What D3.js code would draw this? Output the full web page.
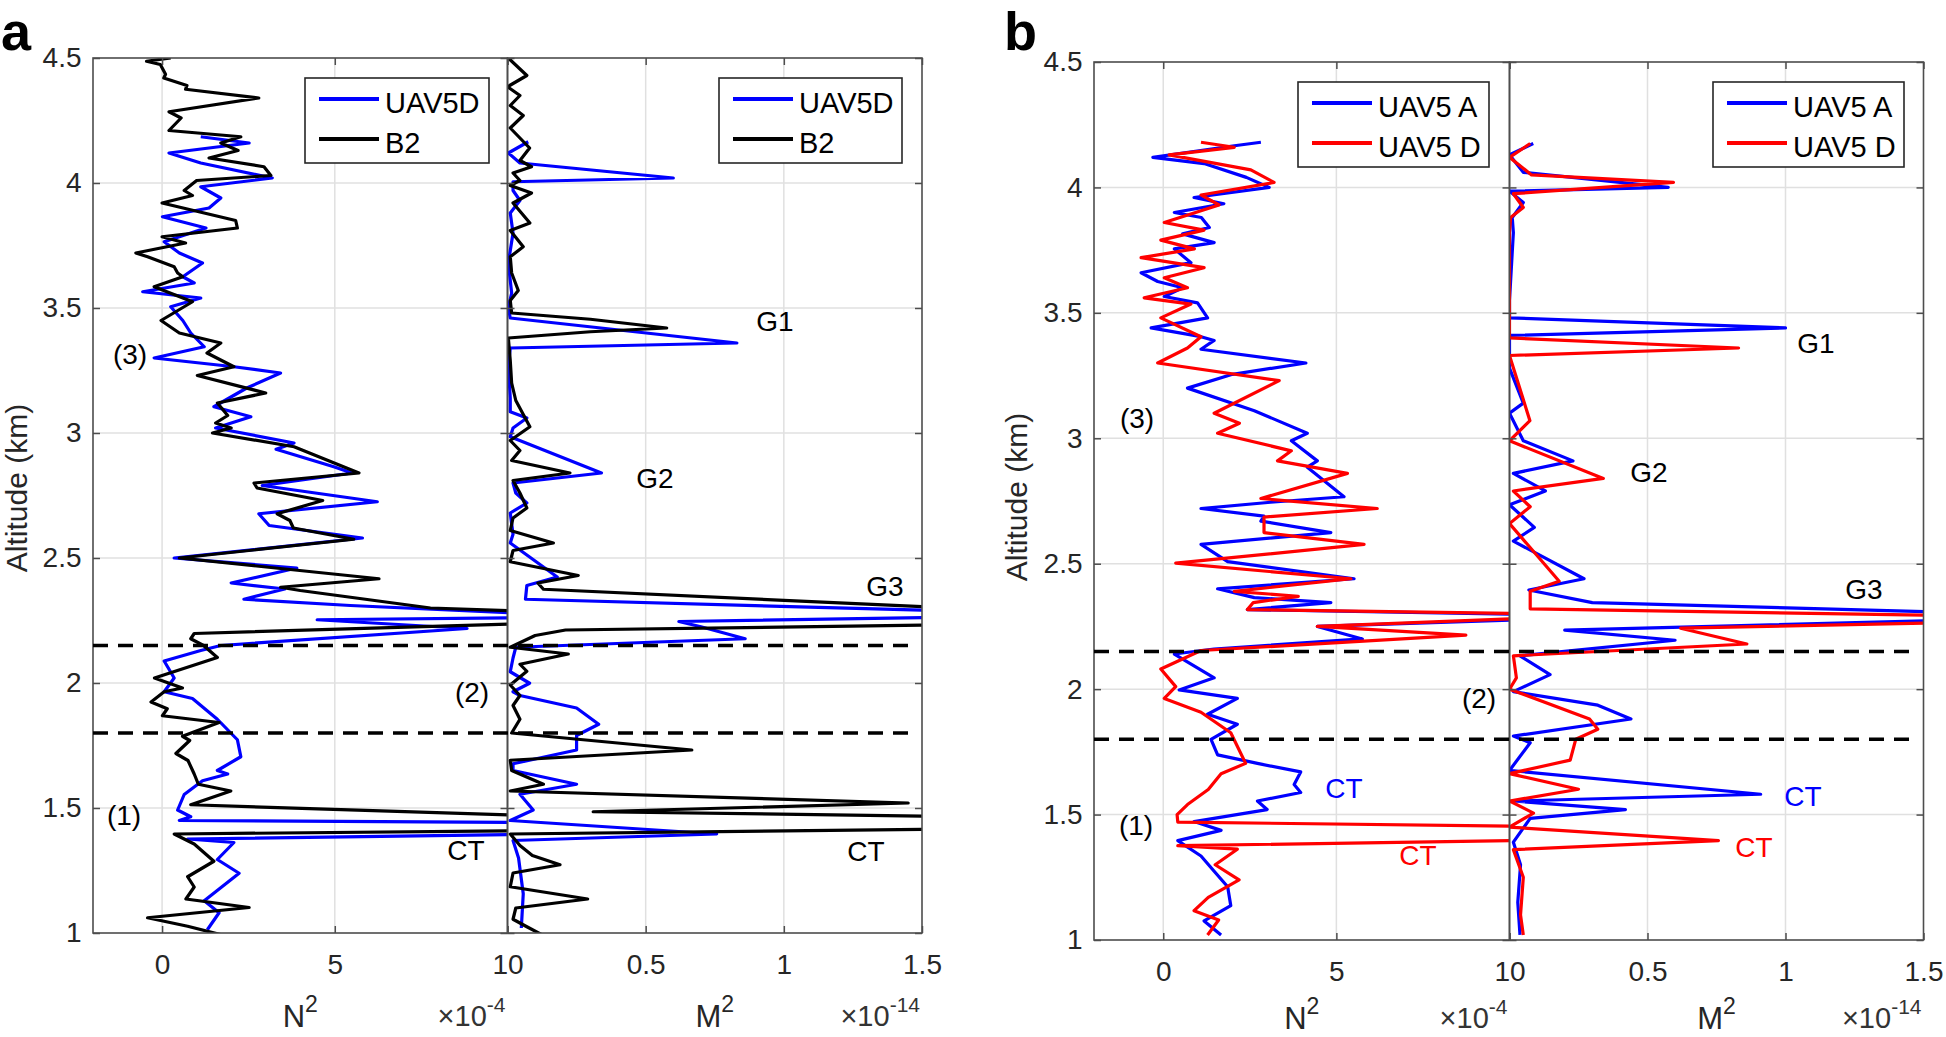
<!DOCTYPE html>
<html><head><meta charset="utf-8">
<script src="https://cdn.jsdelivr.net/npm/d3@7"></script>
<style>body{margin:0;background:#fff} text{font-family:"Liberation Sans",Arial,sans-serif}</style>
</head><body><svg id="c" width="1946" height="1037"></svg>
<script>
// ---------- axis definitions ----------
const altDomain = [1, 4.5];
const n2Domain = [-2, 10];
const m2Domain = [0, 1.5];
const yTicks = [1, 1.5, 2, 2.5, 3, 3.5, 4, 4.5];
const yTickLabels = ["1", "1.5", "2", "2.5", "3", "3.5", "4", "4.5"];
const n2Ticks = [0, 5, 10];
const n2TickLabels = ["0", "5", "10"];
const m2Ticks = [0, 0.5, 1, 1.5];
const m2TickLabels = ["", "0.5", "1", "1.5"];
const dashedAlts = [2.15, 1.8];

// ---------- data: [altitude km, value] ----------
// Panel a, N^2 (x1e-4)
const aB2N2 = [[4.50,0.25],[4.487,-0.45],[4.474,-0.05],[4.435,0.1],[4.42,0.05],[4.39,0.72],[4.375,0.68],[4.34,2.8],[4.285,0.2],[4.26,0.55],[4.21,0.2],[4.185,2.28],[4.16,1.7],[4.13,2.2],[4.10,1.36],[4.065,2.95],[4.03,3.15],[4.01,1.0],[3.97,0.64],[3.95,0.88],[3.92,0.0],[3.85,2.13],[3.82,2.18],[3.785,0.0],[3.76,0.68],[3.72,-0.76],[3.705,-0.42],[3.665,0.35],[3.64,0.45],[3.625,0.6],[3.585,-0.23],[3.525,0.88],[3.45,-0.03],[3.40,0.5],[3.36,1.7],[3.32,1.3],[3.265,2.08],[3.23,1.02],[3.16,3.0],[3.12,1.6],[3.07,1.9],[3.04,1.55],[3.02,2.0],[3.0,1.46],[2.945,3.82],[2.84,5.7],[2.80,2.66],[2.78,2.75],[2.73,4.65],[2.677,3.33],[2.65,3.7],[2.62,3.8],[2.575,5.55],[2.50,0.5],[2.417,6.28],[2.383,3.43],[2.37,4.0],[2.30,7.77],[2.285,11],[2.24,11],[2.198,0.93],[2.177,0.83],[2.15,1.2],[2.102,1.6],[2.02,-0.22],[1.98,0.59],[1.965,0.06],[1.924,-0.32],[1.897,0.15],[1.869,0.01],[1.842,1.65],[1.787,0.59],[1.77,0.8],[1.718,0.4],[1.69,0.75],[1.636,0.93],[1.595,1.05],[1.568,1.99],[1.513,0.83],[1.468,11],[1.45,12],[1.425,12],[1.41,11],[1.396,0.35],[1.356,0.93],[1.287,1.5],[1.225,0.74],[1.184,0.93],[1.136,0.69],[1.102,2.52],[1.061,-0.42],[1.027,0.74],[0.99,1.8]];
const aUAVN2 = [[4.185,1.12],[4.16,2.52],[4.12,0.2],[4.08,1.12],[4.02,3.19],[3.985,1.12],[3.94,1.7],[3.90,1.36],[3.865,0.01],[3.82,1.27],[3.765,0.06],[3.72,0.5],[3.68,1.17],[3.625,0.6],[3.60,0.93],[3.565,-0.56],[3.54,1.12],[3.505,0.25],[3.45,0.6],[3.40,0.83],[3.345,1.22],[3.30,-0.23],[3.265,2.08],[3.24,3.43],[3.18,2.45],[3.105,1.5],[3.065,2.57],[3.02,1.55],[2.96,3.82],[2.935,3.3],[2.865,4.97],[2.84,5.5],[2.79,2.9],[2.725,6.23],[2.677,2.8],[2.63,3.1],[2.58,5.8],[2.50,0.35],[2.46,3.9],[2.40,2.0],[2.376,3.55],[2.335,2.37],[2.31,5.45],[2.275,11],[2.262,11],[2.253,4.49],[2.218,8.83],[2.15,1.7],[2.13,1.12],[2.088,0.06],[2.02,0.35],[1.965,0.06],[1.938,0.88],[1.855,1.6],[1.773,2.18],[1.705,2.28],[1.65,1.6],[1.636,1.9],[1.609,1.17],[1.554,0.64],[1.492,0.45],[1.465,0.83],[1.45,0.5],[1.442,11],[1.435,11.5],[1.40,11.5],[1.395,11],[1.376,0.74],[1.362,2.08],[1.294,1.6],[1.239,2.23],[1.129,1.22],[1.081,1.65],[1.013,1.31]];
// Panel a, M^2 (x1e-14)
const aB2M2 = [[4.50,0.003],[4.43,0.07],[4.385,0.0],[4.35,0.045],[4.31,0.01],[4.27,0.057],[4.22,0.01],[4.14,0.08],[4.09,0.045],[4.065,0.087],[4.04,0.02],[4.01,0.045],[3.99,0.01],[3.96,0.087],[3.92,0.02],[3.84,0.081],[3.81,0.01],[3.745,0.057],[3.705,0.01],[3.64,0.015],[3.57,0.039],[3.53,0.01],[3.48,0.015],[3.455,0.3],[3.42,0.576],[3.405,0.3],[3.38,0.003],[3.29,0.01],[3.2,0.015],[3.13,0.03],[3.025,0.081],[2.97,0.01],[2.93,0.045],[2.89,0.015],[2.84,0.226],[2.81,0.02],[2.76,0.045],[2.70,0.07],[2.66,0.02],[2.61,0.01],[2.56,0.166],[2.53,0.02],[2.485,0.01],[2.43,0.256],[2.40,0.11],[2.375,0.13],[2.30,1.6],[2.285,1.8],[2.24,1.8],[2.232,1.55],[2.212,0.21],[2.19,0.1],[2.143,0.01],[2.116,0.22],[2.075,0.045],[2.047,0.07],[1.992,0.01],[1.95,0.045],[1.91,0.02],[1.855,0.045],[1.80,0.015],[1.732,0.667],[1.691,0.01],[1.65,0.015],[1.595,0.13],[1.568,0.01],[1.52,1.45],[1.485,0.31],[1.465,1.7],[1.417,1.7],[1.396,0.01],[1.35,0.045],[1.31,0.09],[1.273,0.19],[1.24,0.02],[1.185,0.01],[1.136,0.29],[1.10,0.03],[1.055,0.02],[1.025,0.07],[0.99,0.13]];
const aUAVM2 = [[4.165,0.075],[4.12,0.003],[4.08,0.045],[4.02,0.6],[4.005,0.02],[3.97,0.02],[3.93,0.045],[3.88,0.01],[3.80,0.02],[3.68,0.003],[3.56,0.015],[3.50,0.003],[3.46,0.01],[3.36,0.83],[3.34,0.01],[3.27,0.003],[3.14,0.01],[3.085,0.01],[3.06,0.07],[3.02,0.02],[2.985,0.01],[2.84,0.34],[2.80,0.02],[2.76,0.03],[2.72,0.07],[2.68,0.01],[2.595,0.02],[2.56,0.01],[2.424,0.18],[2.39,0.07],[2.335,0.065],[2.285,1.7],[2.265,1.7],[2.246,0.62],[2.225,0.7],[2.177,0.86],[2.143,0.03],[2.10,0.02],[2.045,0.01],[1.999,0.08],[1.965,0.02],[1.95,0.045],[1.90,0.25],[1.835,0.33],[1.79,0.25],[1.732,0.25],[1.677,0.02],[1.65,0.02],[1.595,0.25],[1.555,0.045],[1.492,0.093],[1.45,0.01],[1.396,0.757],[1.37,0.02],[1.30,0.04],[1.157,0.057],[1.02,0.05]];
// Panel b, N^2 (x1e-4)
const bAN2 = [[4.18,2.82],[4.165,2.0],[4.12,-0.3],[4.095,1.18],[4.04,2.4],[4.0,3.06],[3.96,0.89],[3.935,1.75],[3.90,0.32],[3.88,1.1],[3.84,1.33],[3.815,0.56],[3.78,1.47],[3.755,0.32],[3.70,0.8],[3.66,-0.64],[3.625,-0.16],[3.60,0.56],[3.565,0.03],[3.54,0.99],[3.48,1.28],[3.44,-0.35],[3.405,1.09],[3.39,1.47],[3.355,1.09],[3.30,4.12],[3.255,2.0],[3.20,0.7],[3.11,2.63],[3.02,4.16],[2.99,3.7],[2.91,4.45],[2.885,4.16],[2.767,5.22],[2.745,3.1],[2.72,1.09],[2.69,2.91],[2.67,2.82],[2.624,4.84],[2.577,1.09],[2.508,1.86],[2.44,5.51],[2.40,1.57],[2.365,2.63],[2.345,4.84],[2.317,2.43],[2.297,11],[2.28,11],[2.25,4.45],[2.20,5.75],[2.16,1.47],[2.14,0.32],[2.045,1.47],[1.997,0.46],[1.963,2.14],[1.90,1.28],[1.86,2.14],[1.80,1.38],[1.738,1.57],[1.704,2.72],[1.67,3.97],[1.62,3.78],[1.588,3.97],[1.554,2.72],[1.52,3.0],[1.472,0.89],[1.437,1.67],[1.396,0.42],[1.335,1.09],[1.274,1.47],[1.212,1.86],[1.137,1.95],[1.076,1.18],[1.02,1.67]];
const bDN2 = [[4.18,1.09],[4.16,2.05],[4.13,0.17],[4.07,2.53],[4.02,3.2],[3.97,1.09],[3.93,1.61],[3.86,0.03],[3.83,1.18],[3.79,-0.07],[3.755,0.9],[3.72,-0.64],[3.68,1.18],[3.64,0.03],[3.60,0.7],[3.56,-0.55],[3.535,0.8],[3.48,-0.07],[3.405,1.09],[3.36,0.7],[3.30,-0.16],[3.23,3.35],[3.10,1.47],[3.06,2.2],[3.02,1.57],[2.95,3.7],[2.91,3.3],[2.86,5.32],[2.76,2.82],[2.72,6.18],[2.686,2.91],[2.624,2.91],[2.577,5.8],[2.502,0.36],[2.44,5.42],[2.39,2.05],[2.37,3.9],[2.345,2.6],[2.317,2.43],[2.30,11],[2.285,11],[2.25,4.45],[2.215,8.74],[2.154,1.09],[2.08,-0.07],[2.01,0.36],[1.963,0.03],[1.908,1.09],[1.826,1.95],[1.704,2.38],[1.663,1.67],[1.60,1.3],[1.54,0.7],[1.50,0.4],[1.47,0.42],[1.452,11],[1.445,11.5],[1.405,11.5],[1.398,11],[1.376,0.42],[1.362,2.14],[1.30,1.5],[1.24,2.19],[1.17,1.3],[1.117,0.89],[1.08,1.6],[1.02,1.28]];
// Panel b, M^2 (x1e-14)
const bAM2 = [[4.175,0.086],[4.13,0.0],[4.06,0.05],[4.0,0.575],[3.985,0.0],[3.94,0.05],[3.88,0.01],[3.82,0.014],[3.55,0.0],[3.48,0.0],[3.44,1.0],[3.41,0.0],[3.28,0.0],[3.14,0.05],[3.10,0.0],[2.99,0.05],[2.91,0.23],[2.86,0.014],[2.79,0.13],[2.735,0.0],[2.645,0.09],[2.59,0.014],[2.44,0.27],[2.395,0.07],[2.345,0.3],[2.30,1.8],[2.275,1.6],[2.235,0.2],[2.195,0.6],[2.133,0.038],[2.058,0.147],[1.99,0.014],[1.936,0.32],[1.881,0.44],[1.813,0.014],[1.786,0.075],[1.676,0.0],[1.581,0.91],[1.554,0.014],[1.52,0.42],[1.485,0.075],[1.39,0.014],[1.30,0.04],[1.15,0.03],[1.02,0.038]];
const bDM2 = [[4.175,0.075],[4.12,0.0],[4.05,0.08],[4.02,0.594],[3.975,0.014],[3.92,0.05],[3.88,0.004],[3.82,0.0],[3.40,0.0],[3.36,0.83],[3.33,0.0],[3.07,0.074],[2.99,0.0],[2.84,0.34],[2.79,0.014],[2.727,0.075],[2.66,0.0],[2.43,0.18],[2.39,0.075],[2.32,0.075],[2.29,1.8],[2.265,1.6],[2.243,0.62],[2.18,0.86],[2.133,0.014],[2.045,0.025],[2.0,0.0],[1.881,0.29],[1.84,0.32],[1.8,0.24],[1.717,0.22],[1.663,0.0],[1.601,0.25],[1.554,0.0],[1.506,0.087],[1.45,0.0],[1.396,0.757],[1.36,0.014],[1.25,0.05],[1.1,0.04],[1.02,0.05]];

const BLUE = "#0000ff", RED = "#ff0000", BLACK = "#000000";
const FONT = "Liberation Sans, Arial, sans-serif";
const svg = d3.select("#c");

function styleAxis(sel) {
  sel.attr("font-size", 28).attr("font-family", FONT);
  sel.select(".domain").remove();
  sel.selectAll(".tick line").attr("stroke", "#4d4d4d").attr("stroke-width", 1.5);
  sel.selectAll(".tick text").attr("fill", "#262626");
}

function drawPanel(P) {
  const y = d3.scaleLinear().domain(altDomain).range([P.bottom, P.top]);
  const subs = [
    {x: d3.scaleLinear().domain(n2Domain).range([P.left, P.mid]), x0: P.left, x1: P.mid,
     ticks: n2Ticks, labels: n2TickLabels, showY: true, series: P.nSeries, legend: P.nLegend, name: "N", expo: "-4"},
    {x: d3.scaleLinear().domain(m2Domain).range([P.mid, P.right]), x0: P.mid, x1: P.right,
     ticks: m2Ticks, labels: m2TickLabels, showY: false, series: P.mSeries, legend: P.mLegend, name: "M", expo: "-14"}
  ];
  subs.forEach((s, i) => {
    const g = svg.append("g");
    g.selectAll(".gx").data(s.ticks.filter(t => s.x(t) > s.x0 + 1 && s.x(t) < s.x1 - 1)).enter().append("line")
      .attr("x1", d => s.x(d)).attr("x2", d => s.x(d)).attr("y1", P.top).attr("y2", P.bottom)
      .attr("stroke", "#e0e0e0").attr("stroke-width", 1.5);
    g.selectAll(".gy").data(yTicks.filter(t => t > altDomain[0] && t < altDomain[1])).enter().append("line")
      .attr("x1", s.x0).attr("x2", s.x1).attr("y1", d => y(d)).attr("y2", d => y(d))
      .attr("stroke", "#e0e0e0").attr("stroke-width", 1.5);
    const cid = P.id + "clip" + i;
    svg.append("clipPath").attr("id", cid).append("rect")
      .attr("x", s.x0).attr("y", P.top).attr("width", s.x1 - s.x0).attr("height", P.bottom - P.top);
    const line = d3.line().x(d => s.x(d[1])).y(d => y(d[0]));
    const dg = g.append("g").attr("clip-path", `url(#${cid})`);
    s.series.forEach(ser => dg.append("path").datum(ser.data).attr("d", line)
      .attr("fill", "none").attr("stroke", ser.color).attr("stroke-width", 3.2).attr("stroke-linejoin", "round"));
    // axes
    g.append("g").attr("transform", `translate(0,${P.bottom})`)
      .call(d3.axisBottom(s.x).tickValues(s.ticks).tickFormat((d, k) => s.labels[k]).tickSize(-7).tickPadding(21)).call(styleAxis);
    g.append("g").attr("transform", `translate(0,${P.top})`)
      .call(d3.axisTop(s.x).tickValues(s.ticks).tickFormat("").tickSize(-7)).call(styleAxis);
    g.append("g").attr("transform", `translate(${s.x0},0)`)
      .call(d3.axisLeft(y).tickValues(yTicks).tickFormat((d, k) => s.showY ? yTickLabels[k] : "").tickSize(-7).tickPadding(11.5)).call(styleAxis);
    g.append("g").attr("transform", `translate(${s.x1},0)`)
      .call(d3.axisRight(y).tickValues(yTicks).tickFormat("").tickSize(-7)).call(styleAxis);
    g.append("rect").attr("x", s.x0).attr("y", P.top).attr("width", s.x1 - s.x0).attr("height", P.bottom - P.top)
      .attr("fill", "none").attr("stroke", "#4d4d4d").attr("stroke-width", 1.6);
    // x label with superscript
    const cx = (s.x0 + s.x1) / 2;
    const xl = g.append("text").attr("x", cx).attr("y", P.labelBase).attr("text-anchor", "middle")
      .attr("font-size", 31).attr("fill", "#262626");
    xl.append("tspan").text(s.name);
    xl.append("tspan").attr("font-size", 23).attr("dy", -15).text("2");
    const ex = g.append("text").attr("x", s.x1 - 2).attr("y", P.labelBase - 1).attr("text-anchor", "end")
      .attr("font-size", 29).attr("fill", "#333");
    ex.append("tspan").text("\u00d710");
    ex.append("tspan").attr("font-size", 21).attr("dy", -14).text(s.expo);
    // legend
    const L = s.legend;
    const lg = g.append("g");
    lg.append("rect").attr("x", L.x).attr("y", L.y).attr("width", L.w).attr("height", 85)
      .attr("fill", "#fff").attr("stroke", "#262626").attr("stroke-width", 1.6);
    s.series.forEach((ser, k) => {
      const ly = L.y + 21 + k * 40;
      lg.append("line").attr("x1", L.x + 14).attr("x2", L.x + 74).attr("y1", ly).attr("y2", ly)
        .attr("stroke", ser.color).attr("stroke-width", 3.8);
      lg.append("text").attr("x", L.x + 80).attr("y", ly + 14).attr("font-size", 29).attr("fill", "#000").text(ser.name);
    });
  });
  // y axis label
  svg.append("text").attr("transform", `translate(${P.ylabX},${P.ylabY}) rotate(-90)`)
    .attr("text-anchor", "middle").attr("font-size", 30).attr("fill", "#262626").text("Altitude (km)");
  // dashed lines
  svg.selectAll(null).data(dashedAlts).enter().append("line")
    .attr("x1", P.left).attr("x2", P.dashEnd).attr("y1", d => y(d)).attr("y2", d => y(d))
    .attr("stroke", "#000").attr("stroke-width", 3.4).attr("stroke-dasharray", "15,10");
  // annotations
  P.notes.forEach(n => svg.append("text").attr("x", n.x).attr("y", n.y).attr("text-anchor", "middle")
    .attr("font-size", 28).attr("fill", n.c || "#000").text(n.t));
  // panel letter
  svg.append("text").attr("x", P.letterX).attr("y", 50).attr("font-size", 54).attr("font-weight", "bold")
    .attr("fill", "#000").text(P.letter);
}

drawPanel({
  id: "a", letter: "a", letterX: 1,
  left: 93, mid: 507.5, right: 922, top: 58, bottom: 933, dashEnd: 910, labelBase: 1027,
  ylabX: 27, ylabY: 488,
  nSeries: [{name: "UAV5D", color: BLUE, data: aUAVN2}, {name: "B2", color: BLACK, data: aB2N2}],
  mSeries: [{name: "UAV5D", color: BLUE, data: aUAVM2}, {name: "B2", color: BLACK, data: aB2M2}],
  nLegend: {x: 305, y: 78, w: 184}, mLegend: {x: 719, y: 78, w: 183},
  notes: [
    {t: "(3)", x: 130, y: 364}, {t: "(2)", x: 472, y: 702}, {t: "(1)", x: 124, y: 825},
    {t: "CT", x: 466, y: 860}, {t: "G1", x: 775, y: 331}, {t: "G2", x: 655, y: 488},
    {t: "G3", x: 885, y: 596}, {t: "CT", x: 866, y: 861}
  ]
});
drawPanel({
  id: "b", letter: "b", letterX: 1004,
  left: 1094, mid: 1509.5, right: 1923.5, top: 62, bottom: 940, dashEnd: 1912, labelBase: 1029,
  ylabX: 1027, ylabY: 497,
  nSeries: [{name: "UAV5 A", color: BLUE, data: bAN2}, {name: "UAV5 D", color: RED, data: bDN2}],
  mSeries: [{name: "UAV5 A", color: BLUE, data: bAM2}, {name: "UAV5 D", color: RED, data: bDM2}],
  nLegend: {x: 1298, y: 82, w: 191}, mLegend: {x: 1713, y: 82, w: 191},
  notes: [
    {t: "(3)", x: 1137, y: 428}, {t: "(2)", x: 1479, y: 708}, {t: "(1)", x: 1136, y: 835},
    {t: "CT", x: 1344, y: 798, c: BLUE}, {t: "CT", x: 1418, y: 865, c: RED},
    {t: "G1", x: 1816, y: 353}, {t: "G2", x: 1649, y: 482}, {t: "G3", x: 1864, y: 599},
    {t: "CT", x: 1803, y: 806, c: BLUE}, {t: "CT", x: 1754, y: 857, c: RED}
  ]
});
</script>
</body></html>
